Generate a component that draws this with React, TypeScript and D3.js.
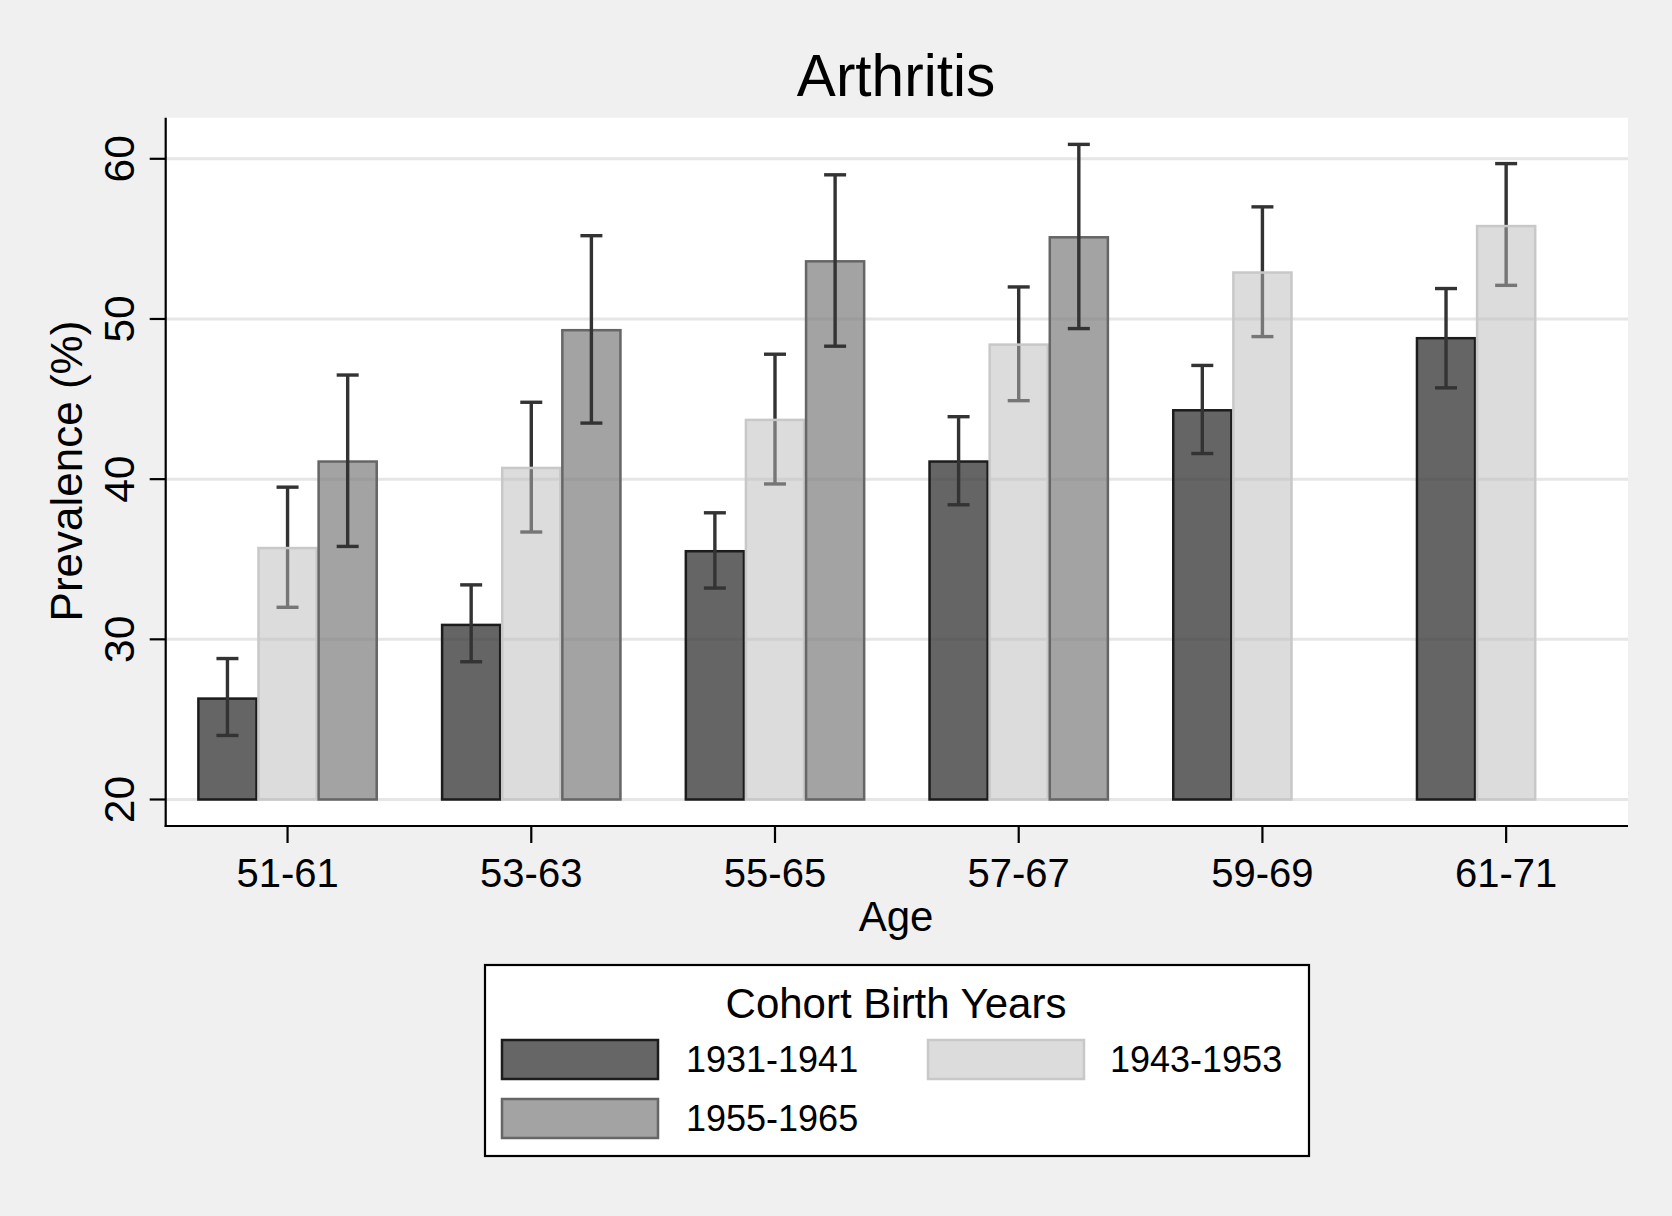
import * as d3 from "d3";

const ageGroups = ["51-61", "53-63", "55-65", "57-67", "59-69", "61-71"];
const cohorts = ["1931-1941", "1943-1953", "1955-1965"];

// prevalence (%) and 95% CI, by cohort
const prev1931 = [26.3, 30.9, 35.5, 41.1, 44.3, 48.8];
const lo1931 = [24.0, 28.6, 33.2, 38.4, 41.6, 45.7];
const hi1931 = [28.8, 33.4, 37.9, 43.9, 47.1, 51.9];

const prev1943 = [35.7, 40.7, 43.7, 48.4, 52.9, 55.8];
const lo1943 = [32.0, 36.7, 39.7, 44.9, 48.9, 52.1];
const hi1943 = [39.5, 44.8, 47.8, 52.0, 57.0, 59.7];

const prev1955 = [41.1, 49.3, 53.6, 55.1];
const lo1955 = [35.8, 43.5, 48.3, 49.4];
const hi1955 = [46.5, 55.2, 59.0, 60.9];

const yTicks = [20, 30, 40, 50, 60];

const W = 1672;
const H = 1216;
const FONT = "'Liberation Sans', Arial, Helvetica, sans-serif";

const plot = { left: 165.7, right: 1628, top: 117.7, bottom: 826 };

const styles = [
  { fill: "#3a3a3a", opacity: 0.78, stroke: "#1c1c1c", swatch: "#666666" },
  { fill: "#b9b9b9", opacity: 0.5, stroke: "#c8c8c8", swatch: "#dcdcdc" },
  { fill: "#7c7c7c", opacity: 0.7, stroke: "#666666", swatch: "#a3a3a3" },
];

const series = [
  { prev: prev1931, lo: lo1931, hi: hi1931 },
  { prev: prev1943, lo: lo1943, hi: hi1943 },
  { prev: prev1955, lo: lo1955, hi: hi1955 },
];

export default function App() {
  const x = d3
    .scaleBand()
    .domain(ageGroups)
    .range([plot.left, plot.right])
    .paddingInner(0.26)
    .paddingOuter(0.13);
  const xs = d3.scaleBand().domain(cohorts).range([0, x.bandwidth()]).padding(0);
  const y = d3.scaleLinear().domain([20, 60]).range([799.5, 158.8]);
  const bw = xs.bandwidth();
  const capW = 22;

  const errBars = (si: number) =>
    series[si].prev.map((_, i) => {
      const cx = (x(ageGroups[i]) ?? 0) + (xs(cohorts[si]) ?? 0) + bw / 2;
      const s = series[si];
      return (
        <g key={`e${si}-${i}`} stroke="#333" strokeWidth={3.4}>
          <line x1={cx} x2={cx} y1={y(s.hi[i])} y2={y(s.lo[i])} />
          <line x1={cx - capW / 2} x2={cx + capW / 2} y1={y(s.hi[i])} y2={y(s.hi[i])} />
          <line x1={cx - capW / 2} x2={cx + capW / 2} y1={y(s.lo[i])} y2={y(s.lo[i])} />
        </g>
      );
    });

  const legendItems = [
    { label: cohorts[0], sx: 502, sy: 1040, tx: 686 },
    { label: cohorts[1], sx: 928, sy: 1040, tx: 1110 },
    { label: cohorts[2], sx: 502, sy: 1099, tx: 686 },
  ];

  return (
    <svg
      width={W}
      height={H}
      style={{ position: "absolute", left: 0, top: 0 }}
      fontFamily={FONT}
    >
      <rect width={W} height={H} fill="#f0f0f0" />
      <text x={896} y={96} textAnchor="middle" fontSize={58.5} fill="#000">
        Arthritis
      </text>

      <rect
        x={plot.left}
        y={plot.top}
        width={plot.right - plot.left}
        height={plot.bottom - plot.top}
        fill="#fff"
      />

      {yTicks.map((t) => (
        <line key={t} x1={plot.left} x2={plot.right} y1={y(t)} y2={y(t)} stroke="#e6e6e6" strokeWidth={3} />
      ))}

      {errBars(1)}

      {series.map((s, si) =>
        s.prev.map((v, i) => (
          <rect
            key={`b${si}-${i}`}
            x={(x(ageGroups[i]) ?? 0) + (xs(cohorts[si]) ?? 0) + 1}
            y={y(v)}
            width={bw - 2}
            height={y(20) - y(v)}
            fill={styles[si].fill}
            fillOpacity={styles[si].opacity}
            stroke={styles[si].stroke}
            strokeWidth={2.5}
          />
        ))
      )}

      {errBars(0)}
      {errBars(2)}

      {/* axes */}
      <line x1={plot.left} x2={plot.left} y1={plot.top} y2={plot.bottom + 1} stroke="#000" strokeWidth={2.2} />
      <line x1={plot.left - 1} x2={plot.right} y1={plot.bottom} y2={plot.bottom} stroke="#000" strokeWidth={2.2} />

      {yTicks.map((t) => (
        <g key={`yt${t}`}>
          <line x1={plot.left - 16} x2={plot.left} y1={y(t)} y2={y(t)} stroke="#000" strokeWidth={2.2} />
          <text
            transform={`translate(133.5,${y(t)}) rotate(-90)`}
            textAnchor="middle"
            fontSize={42.5}
            fill="#000"
          >
            {t}
          </text>
        </g>
      ))}

      {ageGroups.map((g) => {
        const cx = (x(g) ?? 0) + x.bandwidth() / 2;
        return (
          <g key={`xt${g}`}>
            <line x1={cx} x2={cx} y1={plot.bottom} y2={plot.bottom + 17} stroke="#000" strokeWidth={2.2} />
            <text x={cx} y={887} textAnchor="middle" fontSize={40} fill="#000">
              {g}
            </text>
          </g>
        );
      })}

      <text x={896} y={931} textAnchor="middle" fontSize={42} fill="#000">
        Age
      </text>
      <text transform="translate(82,471) rotate(-90)" textAnchor="middle" fontSize={44} fill="#000">
        Prevalence (%)
      </text>

      {/* legend */}
      <rect x={485} y={965} width={824} height={191} fill="#fff" stroke="#000" strokeWidth={2.2} />
      <text x={896} y={1018} textAnchor="middle" fontSize={42} fill="#000">
        Cohort Birth Years
      </text>
      {legendItems.map((it, i) => (
        <g key={it.label}>
          <rect
            x={it.sx}
            y={it.sy}
            width={156}
            height={39}
            fill={styles[i].swatch}
            stroke={styles[i].stroke}
            strokeWidth={2.5}
          />
          <text x={it.tx} y={it.sy + 32} fontSize={36} fill="#000">
            {it.label}
          </text>
        </g>
      ))}
    </svg>
  );
}
